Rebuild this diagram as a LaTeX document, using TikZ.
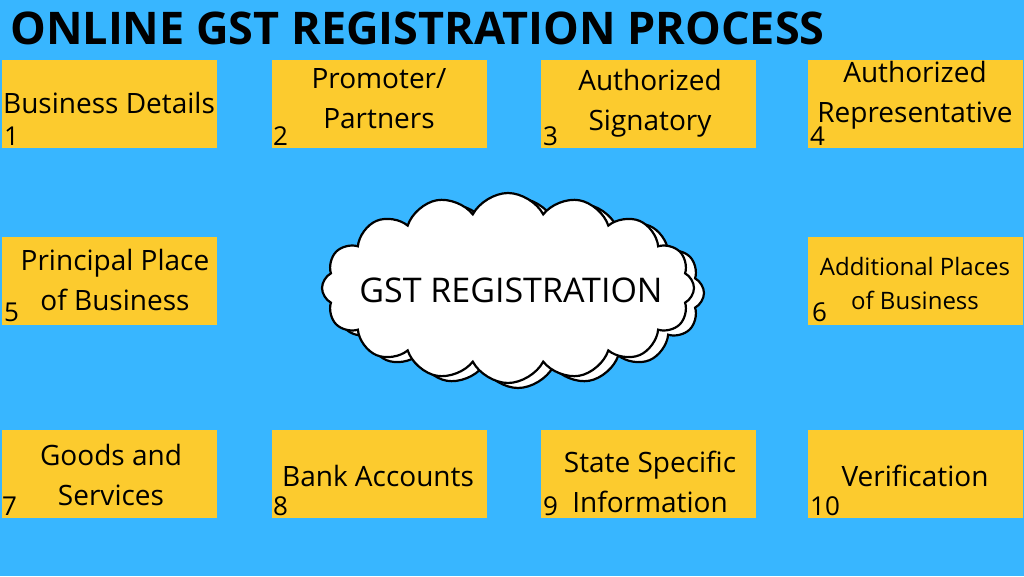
\documentclass[tikz,border=0pt]{standalone}
\usepackage{fontspec}
\setmainfont{Open Sans}
\usetikzlibrary{shapes.symbols}
\definecolor{bg}{HTML}{38B6FF}
\definecolor{yel}{HTML}{FCCB2E}
\tikzset{
  box/.style={fill=yel, draw=none, minimum width=215pt, minimum height=88pt, anchor=north west, inner sep=0pt},
  lbl/.style={font=\fontsize{28}{40}\selectfont, align=center, text=black},
  num/.style={font=\fontsize{26}{26}\selectfont, anchor=south west, inner sep=0pt, text=black},
  cl/.style={cloud, cloud puffs=16, cloud puff arc=125, aspect=2, draw=black, line width=2.2pt, fill=white, minimum width=372pt, minimum height=190pt, inner sep=0pt}
}
\begin{document}
\begin{tikzpicture}[x=1pt,y=-1pt]
\fill[bg] (0,0) rectangle (1024,576);
\useasboundingbox (0,0) rectangle (1024,576);
\node[font=\fontsize{45}{46}\selectfont\bfseries, anchor=west, inner sep=0pt] (title) at (10,28) {ONLINE GST REGISTRATION PROCESS};
\node[box] (b1) at (2,60) {};
\node[box] (b2) at (272,60) {};
\node[box] (b3) at (541,60) {};
\node[box] (b4) at (808,60) {};
\node[box] (b5) at (2,237) {};
\node[box] (b6) at (808,237) {};
\node[box] (b7) at (2,430) {};
\node[box] (b8) at (272,430) {};
\node[box] (b9) at (541,430) {};
\node[box] (b10) at (808,430) {};
\node[lbl] (t1) at (109,103) {Business Details};
\node[num] (n1) at (4,146) {1};
\node[lbl] (t2) at (379,99) {Promoter/\\Partners};
\node[num] (n2) at (273,146) {2};
\node[lbl] (t3) at (650,103) {Authorized\\Signatory};
\node[num] (n3) at (543,146) {3};
\node[lbl] (t4) at (915,95) {Authorized\\Representative};
\node[num] (n4) at (810,146) {4};
\node[lbl] (t5) at (115,280) {Principal Place\\of Business};
\node[num] (n5) at (4,322) {5};
\node[lbl, font=\fontsize{24}{34}\selectfont] (t6) at (915,283) {Additional Places\\of Business};
\node[num] (n6) at (812,322) {6};
\node[lbl] (t7) at (111,475) {Goods and\\Services};
\node[num] (n7) at (2,516) {7};
\node[lbl] (t8) at (378,476) {Bank Accounts};
\node[num] (n8) at (273,516) {8};
\node[lbl] (t9) at (650,482) {State Specific\\Information};
\node[num] (n9) at (543,516) {9};
\node[lbl] (t10) at (915,476) {Verification};
\node[num] (n10) at (810,516) {10};
\node[cl] (sh) at (518,293) {};
\node[cl] (c) at (508,288) {};
\node[font=\fontsize{34}{36}\selectfont] (ct) at (511,290) {GST REGISTRATION};
\end{tikzpicture}
\end{document}
